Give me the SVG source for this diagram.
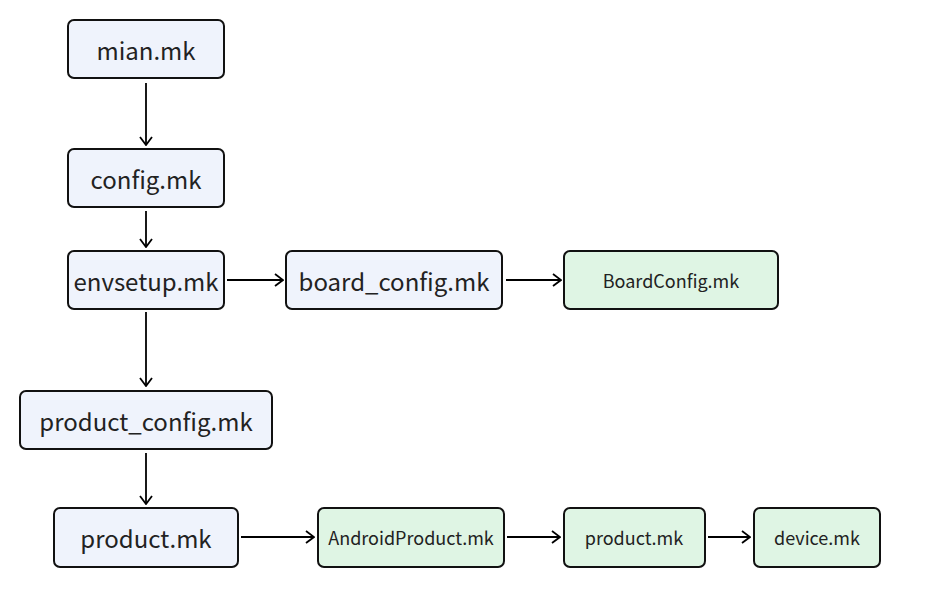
<svg xmlns="http://www.w3.org/2000/svg" width="941" height="598" viewBox="0 0 941 598">
<defs>
<style>
.b{fill:#eff3fc;stroke:#111;stroke-width:2}
.g{fill:#dff5e4;stroke:#111;stroke-width:2}
.t{font-family:"Noto Sans CJK SC","Noto Sans",sans-serif;font-size:24px;fill:#222;text-anchor:middle;dominant-baseline:central}
.s{font-family:"Noto Sans CJK SC","Noto Sans",sans-serif;font-size:18px;fill:#222;text-anchor:middle;dominant-baseline:central}
.c{stroke:#000;stroke-width:1.8;fill:none}
</style>
<marker id="a" viewBox="0 0 10 14" refX="9" refY="7" markerWidth="10" markerHeight="14" markerUnits="userSpaceOnUse" orient="auto">
<path d="M1,1 L9,7 L1,13" fill="none" stroke="#000" stroke-width="1.8"/>
</marker>
</defs>
<rect width="941" height="598" fill="#fff"/>
<g id="connectors">
<line class="c" x1="146" y1="83" x2="146" y2="145" marker-end="url(#a)"/>
<line class="c" x1="146" y1="211" x2="146" y2="247" marker-end="url(#a)"/>
<line class="c" x1="227" y1="280" x2="283" y2="280" marker-end="url(#a)"/>
<line class="c" x1="506" y1="280" x2="561" y2="280" marker-end="url(#a)"/>
<line class="c" x1="146" y1="312" x2="146" y2="386" marker-end="url(#a)"/>
<line class="c" x1="146" y1="453" x2="146" y2="504" marker-end="url(#a)"/>
<line class="c" x1="241" y1="537" x2="314" y2="537" marker-end="url(#a)"/>
<line class="c" x1="507" y1="537" x2="560" y2="537" marker-end="url(#a)"/>
<line class="c" x1="708" y1="537" x2="750" y2="537" marker-end="url(#a)"/>
</g>
<g id="mian"><rect class="b" x="68" y="20" width="156" height="58" rx="6"/><text class="t" x="146" y="49">mian.mk</text></g>
<g id="config"><rect class="b" x="68" y="149" width="156" height="58" rx="6"/><text class="t" x="146" y="178">config.mk</text></g>
<g id="envsetup"><rect class="b" x="68" y="251" width="156" height="58" rx="6"/><text class="t" x="146" y="280">envsetup.mk</text></g>
<g id="board_config"><rect class="b" x="286" y="251" width="216" height="58" rx="6"/><text class="t" x="394" y="280">board_config.mk</text></g>
<g id="BoardConfig"><rect class="g" x="564" y="251" width="214" height="58" rx="6"/><text class="s" x="671" y="280">BoardConfig.mk</text></g>
<g id="product_config"><rect class="b" x="20" y="391" width="252" height="58" rx="6"/><text class="t" x="146" y="420">product_config.mk</text></g>
<g id="product"><rect class="b" x="54" y="508" width="184" height="59" rx="6"/><text class="t" x="146" y="537">product.mk</text></g>
<g id="AndroidProduct"><rect class="g" x="318" y="508" width="186" height="59" rx="6"/><text class="s" x="411" y="537">AndroidProduct.mk</text></g>
<g id="product2"><rect class="g" x="564" y="508" width="141" height="59" rx="6"/><text class="s" x="634" y="537">product.mk</text></g>
<g id="device"><rect class="g" x="754" y="508" width="126" height="59" rx="6"/><text class="s" x="817" y="537">device.mk</text></g>
</svg>
